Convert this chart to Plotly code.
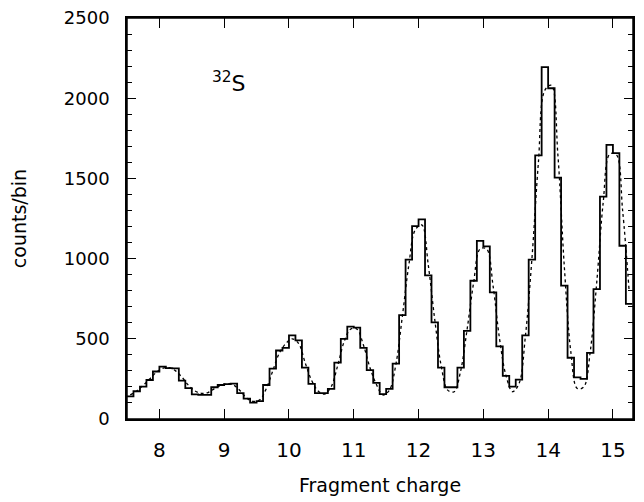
import numpy as np
import plotly.graph_objects as go

# Histogram: bins of width 0.1 starting at 7.5 (fragment charge)
bin_start = 7.5
bin_width = 0.1
counts = [141, 173, 202, 243, 296, 326, 317, 315, 239, 192,
          153, 151, 151, 198, 212, 218, 220, 161, 127, 102,
          112, 212, 314, 427, 443, 521, 490, 320, 219, 161,
          161, 188, 351, 500, 576, 570, 443, 305, 225, 155,
          188, 345, 647, 994, 1202, 1245, 896, 602, 320, 198,
          198, 320, 549, 862, 1110, 1076, 790, 453, 269, 202,
          245, 521, 994, 1643, 2194, 2062, 1505, 831, 382, 260,
          250, 412, 810, 1386, 1709, 1658, 1080, 718]

# Fit curve (dotted), values read at bin centres
fit_vals = [150, 175, 210, 250, 290, 315, 320, 300, 260, 210,
            175, 160, 165, 190, 210, 220, 210, 175, 130, 110,
            120, 190, 300, 410, 470, 500, 470, 350, 240, 175,
            155, 200, 330, 480, 560, 560, 460, 320, 215, 150,
            180, 340, 640, 960, 1180, 1210, 960, 620, 330, 180,
            170, 300, 560, 850, 1060, 1060, 830, 500, 270, 170,
            220, 520, 1000, 1600, 2050, 2080, 1650, 950, 420, 190,
            200, 420, 850, 1350, 1650, 1650, 1300, 800]

x_ticks = [8, 9, 10, 11, 12, 13, 14, 15]
y_ticks = [0, 500, 1000, 1500, 2000, 2500]

n = len(counts)
edges = bin_start + bin_width * np.arange(n + 1)
centers = bin_start + bin_width * (np.arange(n) + 0.5)

FONT = "DejaVu Sans"

fig = go.Figure()
fig.add_trace(go.Scatter(
    x=centers, y=fit_vals, mode="lines",
    line=dict(color="black", width=1.3, dash="dot", shape="spline"),
    showlegend=False, hoverinfo="skip"))
fig.add_trace(go.Scatter(
    x=edges, y=list(counts) + [counts[-1]], mode="lines",
    line=dict(color="black", width=1.8, shape="hv"),
    showlegend=False))

fig.add_annotation(x=9.07, y=2100, text="<sup>32</sup>S", showarrow=False,
                   font=dict(family=FONT, size=22, color="black"))

# frame around the plotting area
fig.add_shape(type="rect", xref="paper", yref="paper", x0=0, y0=0, x1=1, y1=1,
              line=dict(color="black", width=1.5), layer="above")

fig.update_layout(
    width=644, height=502,
    margin=dict(l=119, r=19, t=10, b=91),
    paper_bgcolor="white", plot_bgcolor="white",
    font=dict(family=FONT, size=19, color="black"),
    xaxis=dict(
        range=[7.5, 15.31], tickvals=x_ticks, ticks="inside", ticklen=10,
        tickwidth=1.2, tickcolor="black", showline=True, linecolor="black",
        linewidth=1.5, mirror="allticks", showgrid=False, zeroline=False,
        ticklabelstandoff=12, automargin=False, ticklabeloverflow="allow",
        tickfont=dict(size=20),
        title=dict(text="Fragment charge", font=dict(size=19), standoff=18)),
    yaxis=dict(
        range=[0, 2500], tickvals=y_ticks, ticks="inside", ticklen=9,
        tickwidth=1.2, tickcolor="black", showline=True, linecolor="black",
        linewidth=1.5, mirror="allticks", showgrid=False, zeroline=False,
        ticklabelstandoff=12, automargin=False, ticklabeloverflow="allow",
        tickfont=dict(size=18),
        minor=dict(dtick=100, ticks="inside", ticklen=5, tickcolor="black",
                   tickwidth=1, showgrid=False),
        title=dict(text="counts/bin", font=dict(size=19), standoff=40)),
)

fig.write_html("out.html")
